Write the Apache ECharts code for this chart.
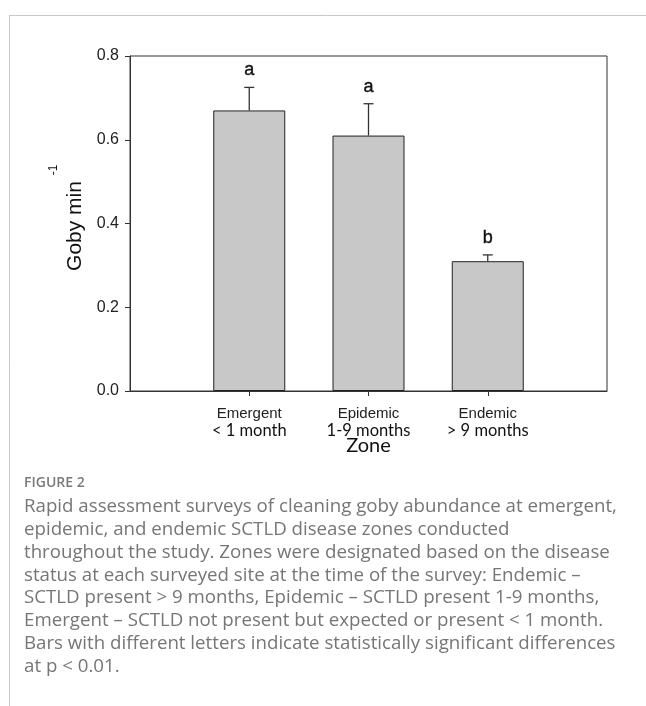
<!DOCTYPE html>
<html>
<head>
<meta charset="utf-8">
<script src="https://cdn.jsdelivr.net/npm/echarts@6/dist/echarts.min.js"></script>
<style>
  html, body { margin: 0; padding: 0; background: #fff; }
  #chart { width: 646px; height: 706px; }
</style>
</head>
<body>
<div id="chart"></div>
<script>
// Disease zones and how long SCTLD has been present in each
const zones = ['Emergent', 'Epidemic', 'Endemic'];
const durations = ['< 1 month', '1-9 months', '> 9 months'];
// Mean goby sightings per minute and the upper error (SE)
const gobyMean = [0.67, 0.61, 0.31];
const gobyErr = [0.055, 0.076, 0.015];
// Significance groups
const groupLetters = ['a', 'a', 'b'];
// Y axis range
const yMin = 0, yMax = 0.8, yStep = 0.2;

const captionTitle = 'FIGURE 2';
const captionLines = [
  'Rapid assessment surveys of cleaning goby abundance at emergent,',
  'epidemic, and endemic SCTLD disease zones conducted',
  'throughout the study. Zones were designated based on the disease',
  'status at each surveyed site at the time of the survey: Endemic \u2013',
  'SCTLD present > 9 months, Epidemic \u2013 SCTLD present 1-9 months,',
  'Emergent \u2013 SCTLD not present but expected or present < 1 month.',
  'Bars with different letters indicate statistically significant differences',
  'at p < 0.01.'
];

// Empty slots on either side keep the bars off the frame edges
const axisCats = [''].concat(zones, ['']);
const barData = ['-'].concat(gobyMean, ['-']);
const errData = zones.map((z, i) => [i + 1, gobyMean[i], gobyMean[i] + gobyErr[i], i]);

const chart = echarts.init(document.getElementById('chart'), null, { renderer: 'canvas' });

const captionGraphics = [
  { type: 'text', left: 24, top: 476,
    style: { text: captionTitle, font: '600 14px "Open Sans"', fill: '#7a7a7a' } }
].concat(captionLines.map((t, i) => ({
  type: 'text', left: 24, top: 497 + i * 22.9,
  style: { text: t, font: '18.7px "Open Sans"', fill: '#767676' }
})));

chart.setOption({
  animation: false,
  backgroundColor: '#fff',
  grid: {
    left: 130, right: 39, top: 56, bottom: 315,
    show: true, borderColor: '#333', borderWidth: 1,
    outerBoundsMode: 'none'
  },
  xAxis: {
    type: 'category',
    data: axisCats,
    boundaryGap: false,
    axisLine: { lineStyle: { color: '#333', width: 1 } },
    axisTick: {
      length: 5, inside: false,
      interval: (idx) => idx > 0 && idx < axisCats.length - 1,
      lineStyle: { color: '#333' }
    },
    axisLabel: {
      interval: 0,
      margin: 14,
      formatter: (v) => {
        const i = zones.indexOf(v);
        return i < 0 ? '' : '{z|' + v + '}\n{d|' + durations[i] + '}';
      },
      rich: {
        z: { fontFamily: 'Liberation Sans', fontSize: 15, color: '#222', lineHeight: 17 },
        d: { fontFamily: 'Lato', fontSize: 16.5, color: '#111', lineHeight: 17 }
      }
    },
    name: 'Zone',
    nameLocation: 'middle',
    nameGap: 45,
    nameMoveOverlap: false,
    nameTextStyle: { fontFamily: 'Lato', fontSize: 20, color: '#111' },
    splitLine: { show: false }
  },
  yAxis: {
    type: 'value',
    min: yMin, max: yMax, interval: yStep,
    axisLine: { show: true, lineStyle: { color: '#333', width: 1 } },
    axisTick: { show: true, length: 5, lineStyle: { color: '#333' } },
    axisLabel: {
      margin: 11,
      fontFamily: 'Liberation Sans', fontSize: 16, color: '#222',
      formatter: (v) => v.toFixed(1)
    },
    splitLine: { show: false }
  },
  graphic: [
    // outer frame of the figure panel
    { type: 'line', shape: { x1: 9, y1: 15.5, x2: 646, y2: 15.5 }, style: { stroke: '#c8c8c8', lineWidth: 1 } },
    { type: 'line', shape: { x1: 9.5, y1: 15, x2: 9.5, y2: 706 }, style: { stroke: '#c8c8c8', lineWidth: 1 } },
    // y axis title with superscript
    { type: 'text', x: 75, y: 226, rotation: Math.PI / 2,
      style: { text: 'Goby min', font: '21px "Liberation Sans"', fill: '#111', align: 'center', verticalAlign: 'middle' } },
    { type: 'text', x: 54, y: 170, rotation: Math.PI / 2,
      style: { text: '-1', font: '12px "Liberation Sans"', fill: '#111', align: 'center', verticalAlign: 'middle' } }
  ].concat(captionGraphics),
  series: [
    {
      type: 'bar',
      data: barData,
      barWidth: 72,
      itemStyle: { color: '#c8c8c8', borderColor: '#222', borderWidth: 1 },
      z: 2
    },
    {
      type: 'custom',
      data: errData,
      z: 3,
      renderItem: (params, api) => {
        const x = api.value(0);
        const base = api.coord([x, api.value(1)]);
        const top = api.coord([x, api.value(2)]);
        const cap = 5;
        return {
          type: 'group',
          children: [
            { type: 'line', shape: { x1: base[0], y1: base[1], x2: top[0], y2: top[1] },
              style: { stroke: '#333', lineWidth: 1.3 } },
            { type: 'line', shape: { x1: top[0] - cap, y1: top[1], x2: top[0] + cap, y2: top[1] },
              style: { stroke: '#333', lineWidth: 1.3 } },
            { type: 'text', x: top[0], y: top[1] - 8,
              style: { text: groupLetters[api.value(3)], font: '18px "Liberation Sans"', fill: '#111',
                       stroke: '#111', lineWidth: 0.4,
                       align: 'center', verticalAlign: 'bottom' } }
          ]
        };
      }
    }
  ]
});
</script>
</body>
</html>
